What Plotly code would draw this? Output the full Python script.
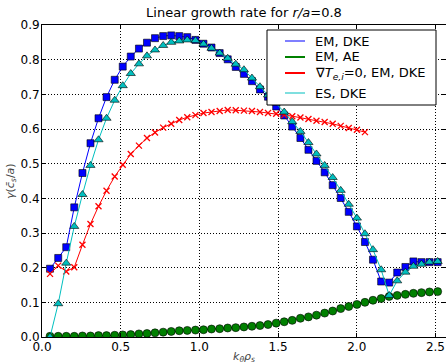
import plotly.graph_objects as go

# k_theta * rho_s grid
k = [0.051, 0.103, 0.154, 0.205, 0.257, 0.308, 0.359, 0.410, 0.462, 0.513,
     0.564, 0.616, 0.667, 0.718, 0.770, 0.821, 0.872, 0.923, 0.975, 1.026,
     1.077, 1.129, 1.180, 1.231, 1.283, 1.334, 1.385, 1.436, 1.488, 1.539,
     1.590, 1.642, 1.693, 1.744, 1.796, 1.847, 1.898, 1.949, 2.001, 2.052,
     2.103, 2.155, 2.206, 2.257, 2.309, 2.360, 2.411, 2.462, 2.514]

em_dke = [0.197, 0.228, 0.259, 0.374, 0.473, 0.559, 0.631, 0.692, 0.742, 0.780,
          0.809, 0.832, 0.849, 0.862, 0.868, 0.870, 0.868, 0.865, 0.857, 0.846,
          0.835, 0.819, 0.801, 0.779, 0.759, 0.738, 0.714, 0.693, 0.665, 0.639,
          0.607, 0.574, 0.540, 0.508, 0.475, 0.438, 0.401, 0.361, 0.319, 0.274,
          0.223, 0.160, 0.157, 0.186, 0.202, 0.218, 0.216, 0.216, 0.216]

em_ae = [0.002, 0.002, 0.002, 0.002, 0.003, 0.003, 0.004, 0.004, 0.005, 0.006,
         0.007, 0.009, 0.010, 0.012, 0.014, 0.016, 0.018, 0.019, 0.020, 0.021,
         0.023, 0.024, 0.026, 0.027, 0.029, 0.031, 0.033, 0.036, 0.040, 0.044,
         0.048, 0.054, 0.058, 0.063, 0.069, 0.075, 0.082, 0.088, 0.094, 0.100,
         0.106, 0.111, 0.117, 0.120, 0.123, 0.126, 0.128, 0.130, 0.131]

gradT0_em_dke = [0.182, 0.206, 0.189, 0.201, 0.266, 0.326, 0.377, 0.422, 0.463, 0.497,
                 0.528, 0.552, 0.574, 0.590, 0.604, 0.615, 0.626, 0.634, 0.640, 0.646,
                 0.649, 0.652, 0.655, 0.654, 0.653, 0.652, 0.649, 0.646, 0.644, 0.640,
                 0.637, 0.633, 0.629, 0.624, 0.620, 0.615, 0.609, 0.603, 0.598, 0.591]

es_dke = [0.000, 0.096, 0.213, 0.319, 0.411, 0.495, 0.569, 0.631, 0.683, 0.725,
          0.760, 0.788, 0.811, 0.828, 0.841, 0.850, 0.854, 0.857, 0.855, 0.845,
          0.833, 0.819, 0.804, 0.787, 0.771, 0.747, 0.722, 0.698, 0.675, 0.649,
          0.621, 0.593, 0.561, 0.528, 0.495, 0.460, 0.423, 0.383, 0.343, 0.298,
          0.252, 0.194, 0.120, 0.162, 0.187, 0.204, 0.210, 0.216, 0.218]

x_ticks = [0.0, 0.5, 1.0, 1.5, 2.0, 2.5]
y_ticks = [0.0, 0.1, 0.2, 0.3, 0.4, 0.5, 0.6, 0.7, 0.8, 0.9]

legend_names = ["EM, DKE", "EM, AE", "∇<i>T</i><sub><i>e,i</i></sub>=0, EM, DKE", "ES, DKE"]
legend_colors = ["#7f7fff", "#008000", "#ff0000", "#7fdfdf"]

FONT = "DejaVu Sans"
edge = "rgba(0,0,0,0.6)"

W, H = 446, 364
L, R, T, B = 42, 0, 25, 27
PW, PH = W - L - R, H - T - B


def px_x(p):
    return (p - L) / PW


def px_y(p):
    return 1 - (p - T) / PH


fig = go.Figure()

fig.add_trace(go.Scatter(x=k, y=em_dke, mode="lines+markers", showlegend=False,
                         line=dict(color="#0000ff", width=1),
                         marker=dict(symbol="square", size=7, color="#0000ff",
                                     line=dict(color=edge, width=1))))
fig.add_trace(go.Scatter(x=k, y=em_ae, mode="lines+markers", showlegend=False,
                         line=dict(color="#008000", width=1),
                         marker=dict(symbol="circle", size=8, color="#008000",
                                     line=dict(color=edge, width=1))))
fig.add_trace(go.Scatter(x=k[:len(gradT0_em_dke)], y=gradT0_em_dke, mode="lines+markers",
                         showlegend=False,
                         line=dict(color="#ff0000", width=1),
                         marker=dict(symbol="x-thin", size=6, color="#ff0000",
                                     line=dict(color="#ff0000", width=1.3))))
fig.add_trace(go.Scatter(x=k, y=es_dke, mode="lines+markers", showlegend=False,
                         line=dict(color="#00bfbf", width=1),
                         marker=dict(symbol="triangle-up", size=8, color="#00bfbf",
                                     line=dict(color=edge, width=1))))

# manual legend (box, line samples, labels)
shapes = [dict(type="rect", xref="paper", yref="paper",
               x0=px_x(267), x1=px_x(436), y0=px_y(105), y1=px_y(30),
               fillcolor="white", line=dict(color="black", width=1), layer="above")]
annotations = []
row_y = [41, 57, 73, 93]
for name, col, yy in zip(legend_names, legend_colors, row_y):
    shapes.append(dict(type="line", xref="paper", yref="paper",
                       x0=px_x(285), x1=px_x(305), y0=px_y(yy), y1=px_y(yy),
                       line=dict(color=col, width=2), layer="above"))
    annotations.append(dict(xref="paper", yref="paper", x=px_x(313), y=px_y(yy),
                            xanchor="left", yanchor="middle", showarrow=False,
                            text=name, font=dict(family=FONT, size=13, color="black")))

# axis titles
annotations.append(dict(xref="paper", yref="paper", x=px_x(244), y=px_y(357),
                        xanchor="center", yanchor="middle", showarrow=False,
                        text="<i>k<sub>θ</sub>ρ<sub>s</sub></i>",
                        font=dict(family=FONT, size=11, color="#444")))
annotations.append(dict(xref="paper", yref="paper", x=px_x(11), y=px_y(181),
                        xanchor="center", yanchor="middle", showarrow=False, textangle=-90,
                        text="<i>γ</i>(<i>c̄<sub>s</sub></i>/<i>a</i>)",
                        font=dict(family=FONT, size=11, color="#444")))

axis_common = dict(showline=True, linecolor="black", linewidth=1, mirror="allticks",
                   ticks="inside", ticklen=4, tickcolor="black",
                   showgrid=True, gridcolor="black", gridwidth=1, griddash="1px,2px",
                   zeroline=False, tickformat=".1f",
                   tickfont=dict(family=FONT, size=12, color="black"))

fig.update_xaxes(range=[0, 2.567], tickvals=x_ticks, ticklabelstandoff=-1, **axis_common)
fig.update_yaxes(range=[0, 0.9], tickvals=y_ticks, ticklabelstandoff=-1, **axis_common)

fig.update_layout(
    width=W, height=H,
    margin=dict(l=L, r=R, t=T, b=B, autoexpand=False),
    paper_bgcolor="white", plot_bgcolor="white",
    title=dict(text="Linear growth rate for <i>r/a</i>=0.8", x=0.547, xanchor="center",
               y=1 - 12 / H, yanchor="middle",
               font=dict(family=FONT, size=13, color="black")),
    showlegend=False,
    hovermode=False,
    shapes=shapes,
    annotations=annotations,
    font=dict(family=FONT),
)

fig.write_html("out.html",
               config={"displayModeBar": False, "staticPlot": True},
               post_script="document.body.style.margin='0';document.body.style.overflow='hidden';")
